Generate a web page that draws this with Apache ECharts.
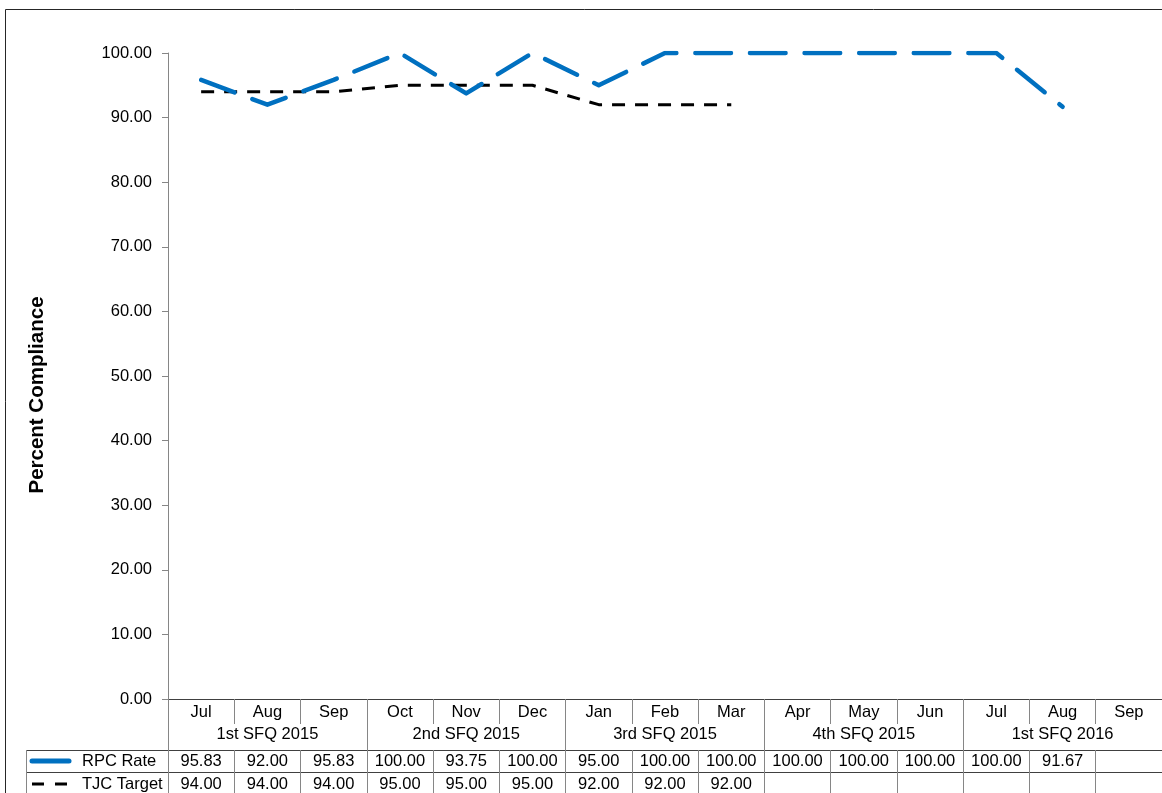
<!DOCTYPE html>
<html>
<head>
<meta charset="utf-8">
<style>
  html, body { margin: 0; padding: 0; background: #fff; }
  #chart { width: 1162px; height: 793px; }
</style>
<script src="https://cdn.jsdelivr.net/npm/echarts@6/dist/echarts.min.js"></script>
</head>
<body>
<div id="chart"></div>
<script>
// Monthly compliance, grouped by state fiscal quarter
const months = ['Jul', 'Aug', 'Sep', 'Oct', 'Nov', 'Dec', 'Jan', 'Feb', 'Mar', 'Apr', 'May', 'Jun', 'Jul', 'Aug', 'Sep'];
const quarters = ['1st SFQ 2015', '2nd SFQ 2015', '3rd SFQ 2015', '4th SFQ 2015', '1st SFQ 2016'];
const rpcRate = [95.83, 92.00, 95.83, 100.00, 93.75, 100.00, 95.00, 100.00, 100.00, 100.00, 100.00, 100.00, 100.00, 91.67, null];
const tjcTarget = [94.00, 94.00, 94.00, 95.00, 95.00, 95.00, 92.00, 92.00, 92.00, null, null, null, null, null, null];
const yTicks = [0, 10, 20, 30, 40, 50, 60, 70, 80, 90, 100];

const FONT = '"Liberation Sans", Arial, sans-serif';
const FS = 16.5;
const BLUE = '#0070C0';
const TABLE_LINE = '#404040';
const AXIS_GRAY = '#868686';

const fmt = v => (v == null ? '' : v.toFixed(2));

const chart = echarts.init(document.getElementById('chart'), null, { renderer: 'canvas' });

const tableText = { fontFamily: FONT, fontSize: FS, color: '#000' };

chart.setOption({
  animation: false,
  backgroundColor: '#fff',
  grid: { left: 168, right: 0, top: 53, bottom: 94, containLabel: false },
  xAxis: [
    {
      // month row
      type: 'category',
      data: months,
      position: 'bottom',
      boundaryGap: true,
      axisLine: { show: true, lineStyle: { color: TABLE_LINE, width: 1 } },
      axisTick: { show: true, interval: 0, length: 25, lineStyle: { color: AXIS_GRAY, width: 1 } },
      axisLabel: Object.assign({ interval: 0, margin: 5 }, tableText),
      splitLine: { show: false }
    },
    {
      // quarter row, its boundaries run through the whole table
      type: 'category',
      data: quarters,
      position: 'bottom',
      boundaryGap: true,
      axisLine: { show: false },
      axisTick: { show: true, interval: 0, length: 110, lineStyle: { color: AXIS_GRAY, width: 1 } },
      axisLabel: Object.assign({ interval: 0, margin: 27 }, tableText),
      splitLine: { show: false }
    },
    {
      // data table: RPC Rate row
      type: 'category',
      data: rpcRate.map(fmt),
      position: 'bottom',
      offset: 51,
      boundaryGap: true,
      axisLine: { show: true, lineStyle: { color: TABLE_LINE, width: 1 } },
      axisTick: { show: true, interval: 0, length: 60, lineStyle: { color: AXIS_GRAY, width: 1 } },
      axisLabel: Object.assign({ interval: 0, margin: 3 }, tableText),
      splitLine: { show: false }
    },
    {
      // data table: TJC Target row
      type: 'category',
      data: tjcTarget.map(fmt),
      position: 'bottom',
      offset: 73,
      boundaryGap: true,
      axisLine: { show: true, lineStyle: { color: TABLE_LINE, width: 1 } },
      axisTick: { show: false },
      axisLabel: Object.assign({ interval: 0, margin: 4 }, tableText),
      splitLine: { show: false }
    }
  ],
  yAxis: {
    type: 'value',
    min: yTicks[0],
    max: yTicks[yTicks.length - 1],
    interval: 10,
    axisLine: { show: true, lineStyle: { color: AXIS_GRAY, width: 1 } },
    axisTick: { show: true, length: 6, lineStyle: { color: AXIS_GRAY, width: 1 } },
    axisLabel: { formatter: v => v.toFixed(2), margin: 16, fontFamily: FONT, fontSize: FS, color: '#000' },
    splitLine: { show: false }
  },
  series: [
    {
      name: 'RPC Rate',
      type: 'line',
      xAxisIndex: 0,
      data: rpcRate,
      symbol: 'none',
      connectNulls: false,
      lineStyle: { color: BLUE, width: 4.5, type: [35.6, 19], cap: 'round', join: 'round' },
      z: 3
    },
    {
      name: 'TJC Target',
      type: 'line',
      xAxisIndex: 0,
      data: tjcTarget,
      symbol: 'none',
      connectNulls: false,
      lineStyle: { color: '#000', width: 3, type: [13, 10], cap: 'butt', join: 'round' },
      z: 2
    }
  ],
  graphic: [
    // chart area border
    { type: 'rect', shape: { x: 5.5, y: 9.5, width: 2000, height: 2000 }, style: { fill: 'none', stroke: '#262626', lineWidth: 1 }, silent: true },
    // axis title
    {
      type: 'text', x: 37, y: 395, rotation: Math.PI / 2,
      style: { text: 'Percent Compliance', font: 'bold 20.5px ' + FONT, fill: '#000', textAlign: 'center', textVerticalAlign: 'middle' }
    },
    // legend-key column of the data table
    { type: 'line', shape: { x1: 26, y1: 750.5, x2: 168, y2: 750.5 }, style: { stroke: TABLE_LINE, lineWidth: 1 } },
    { type: 'line', shape: { x1: 26, y1: 772.5, x2: 168, y2: 772.5 }, style: { stroke: TABLE_LINE, lineWidth: 1 } },
    { type: 'line', shape: { x1: 26.5, y1: 750, x2: 26.5, y2: 800 }, style: { stroke: AXIS_GRAY, lineWidth: 1 } },
    { type: 'line', shape: { x1: 32, y1: 761, x2: 69, y2: 761 }, style: { stroke: BLUE, lineWidth: 5, lineCap: 'round' } },
    { type: 'line', shape: { x1: 32, y1: 784, x2: 69, y2: 784 }, style: { stroke: '#000', lineWidth: 3, lineDash: [12, 11] } },
    { type: 'text', x: 82, y: 761, style: { text: 'RPC Rate', font: FS + 'px ' + FONT, fill: '#000', textVerticalAlign: 'middle' } },
    { type: 'text', x: 82, y: 784, style: { text: 'TJC Target', font: FS + 'px ' + FONT, fill: '#000', textVerticalAlign: 'middle' } }
  ]
});
</script>
</body>
</html>
